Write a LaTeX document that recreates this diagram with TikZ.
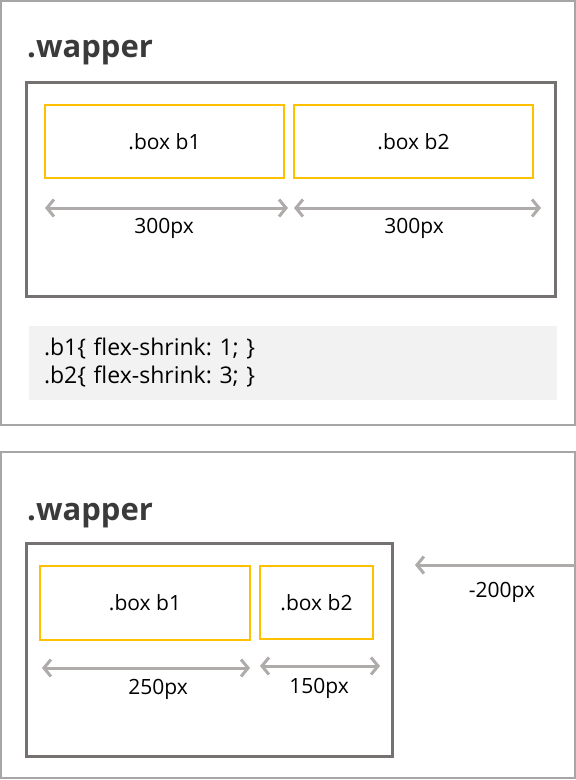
\documentclass[tikz,border=0pt]{standalone}
\usepackage{fontspec}
\setmainfont{Open Sans}
\usetikzlibrary{arrows.meta, positioning}
\frenchspacing

\definecolor{panelgray}{HTML}{A6A6A6}
\definecolor{wrapgray}{HTML}{767171}
\definecolor{boxyellow}{HTML}{FFC000}
\definecolor{arrowgray}{HTML}{AFABAB}
\definecolor{codegray}{HTML}{F2F2F2}
\definecolor{titlegray}{HTML}{3A3A3A}

\begin{document}
\begin{tikzpicture}[
    x=1pt, y=-1pt,
    panel/.style={draw=panelgray, line width=2pt, inner sep=0pt, outer sep=0pt, anchor=north west},
    wrapbox/.style={draw=wrapgray, line width=3pt, inner sep=0pt, outer sep=0pt, anchor=north west},
    flexbox/.style={draw=boxyellow, line width=2pt, inner sep=0pt, outer sep=0pt, anchor=north west, font=\fontsize{21}{25}\selectfont},
    dim/.style={draw=arrowgray, line width=3pt, {Straight Barb[length=7pt, width=17pt]}-{Straight Barb[length=7pt, width=17pt]}},
    push/.style={draw=arrowgray, line width=3pt, -{Straight Barb[length=7pt, width=17pt]}},
    lbl/.style={font=\fontsize{21}{25}\selectfont, inner sep=0pt},
    title/.style={font=\fontsize{31}{36}\selectfont\bfseries, text=titlegray, anchor=base west, inner sep=0pt}
]
\useasboundingbox (0,0) rectangle (576,780);

% top panel: before shrinking
\node[panel, minimum width=574, minimum height=424] (panel1) at (1,1) {};
\node[title] (title1) at (27,57) {.wapper};
\node[wrapbox, minimum width=529, minimum height=214] (wrap1) at (26,82) {};
\node[flexbox, minimum width=239, minimum height=73] (b1) at (45,105) {.box b1};
\node[flexbox, minimum width=239, minimum height=73] (b2) at (294,105) {.box b2};

\coordinate (d1l) at (45,208);
\coordinate (d1r) at (288,208);
\coordinate (d2l) at (294,208);
\coordinate (d2r) at (541,208);
\draw[dim] (d1l) -- (d1r);
\draw[dim] (d2l) -- (d2r);
\node[lbl] (w1) at (164,228) {300px};
\node[lbl] (w2) at (414,228) {300px};

\node[fill=codegray, anchor=north west, inner sep=0pt, inner xsep=15pt, outer sep=0pt,
      minimum height=74, text width=498, align=left,
      font=\fontsize{23}{28}\selectfont] (code) at (29,326)
      {.b1\{ flex-shrink: 1; \}\\.b2\{ flex-shrink: 3; \}};

% bottom panel: after shrinking
\node[panel, minimum width=574, minimum height=326] (panel2) at (1,452) {};
\node[title] (title2) at (27,520) {.wapper};
\node[wrapbox, minimum width=366, minimum height=213] (wrap2) at (26,543) {};
\node[flexbox, minimum width=210, minimum height=74] (s1) at (40,566) {.box b1};
\node[flexbox, minimum width=113, minimum height=73] (s2) at (260,566) {.box b2};

\coordinate (e1l) at (42,668);
\coordinate (e1r) at (250,668);
\coordinate (e2l) at (260,666);
\coordinate (e2r) at (380,666);
\draw[dim] (e1l) -- (e1r);
\draw[dim] (e2l) -- (e2r);
\node[lbl] (w3) at (158,689) {250px};
\node[lbl] (w4) at (319,688) {150px};

\coordinate (pfrom) at (575,565);
\coordinate (pto) at (415,565);
\draw[push] (pfrom) -- (pto);
\node[lbl] (w5) at (502,592) {-200px};

\end{tikzpicture}
\end{document}
